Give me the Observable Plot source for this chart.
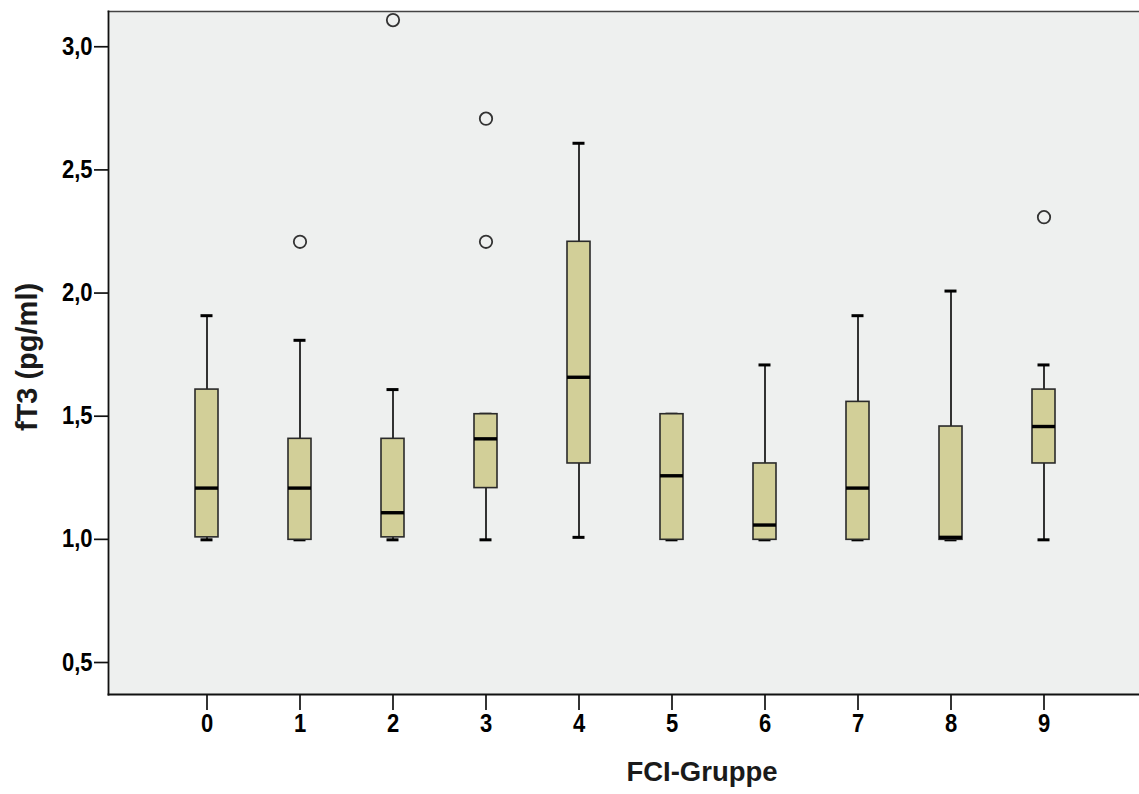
<!DOCTYPE html>
<html>
<head>
<meta charset="utf-8">
<script src="https://cdn.jsdelivr.net/npm/d3@7"></script>
<script src="https://cdn.jsdelivr.net/npm/@observablehq/plot@0.6"></script>
<style>
  html, body { margin: 0; padding: 0; background: #ffffff; overflow: hidden; }
  #chart svg { display: block; }
</style>
</head>
<body>
<div id="chart"></div>
<script>
// ---- data ----
const groups = ["0", "1", "2", "3", "4", "5", "6", "7", "8", "9"];
const whiskerLow  = [0.99, 0.99, 0.99, 0.99, 1.00, 0.99, 0.99, 0.99, 0.99, 0.99];
const quartile1   = [1.00, 0.99, 1.00, 1.20, 1.30, 0.99, 0.99, 0.99, 0.99, 1.30];
const medians     = [1.20, 1.20, 1.10, 1.40, 1.65, 1.25, 1.05, 1.20, 1.00, 1.45];
const quartile3   = [1.60, 1.40, 1.40, 1.50, 2.20, 1.50, 1.30, 1.55, 1.45, 1.60];
const whiskerHigh = [1.90, 1.80, 1.60, 1.50, 2.60, 1.50, 1.70, 1.90, 2.00, 1.70];
const outlierGroups = ["1", "2", "3", "3", "9"];
const outlierValues = [2.2, 3.1, 2.7, 2.2, 2.3];
const yTicks = [0.5, 1.0, 1.5, 2.0, 2.5, 3.0];
const xTitle = "FCI-Gruppe";
const yTitle = "fT3 (pg/ml)";

const boxes = groups.map((g, i) => ({
  group: g, lo: whiskerLow[i], q1: quartile1[i], med: medians[i], q3: quartile3[i], hi: whiskerHigh[i]
}));
const outliers = outlierGroups.map((g, i) => ({ group: g, value: outlierValues[i] }));

const tickFont = "'Liberation Sans', Arial, sans-serif";
const titleFont = "'Liberation Sans', Arial, sans-serif";

const chart = Plot.plot({
  width: 1139,
  height: 794,
  marginLeft: 108,
  marginRight: 0,
  marginTop: 11,
  marginBottom: 100,
  style: { background: "#ffffff", color: "#000", fontFamily: tickFont, fontSize: "25px", fontWeight: "bold" },
  x: { type: "band", domain: groups, paddingInner: 0.75, paddingOuter: 0.915, range: [109.5, 1140.5], label: null },
  y: { domain: [0.362, 3.135], label: null },
  marks: [
    Plot.frame({ fill: "#eef0ef", stroke: null }),
    Plot.ruleX(boxes, { x: "group", y1: "lo", y2: "q1", stroke: "#111", strokeWidth: 1.7 }),
    Plot.ruleX(boxes, { x: "group", y1: "q3", y2: "hi", stroke: "#111", strokeWidth: 1.7 }),
    Plot.tickY(boxes, { x: "group", y: "hi", insetLeft: 5.5, insetRight: 5.5, stroke: "#000", strokeWidth: 3 }),
    Plot.tickY(boxes, { x: "group", y: "lo", insetLeft: 5.5, insetRight: 5.5, stroke: "#000", strokeWidth: 3 }),
    Plot.barY(boxes, { x: "group", y1: "q1", y2: "q3", fill: "#d2cf98", stroke: "#2a2a2a", strokeWidth: 1.6 }),
    Plot.tickY(boxes, { x: "group", y: "med", stroke: "#000", strokeWidth: 3.4 }),
    Plot.dot(outliers, { x: "group", y: "value", r: 6.2, stroke: "#333", strokeWidth: 1.8, fill: "none" }),
    Plot.frame({ anchor: "top", stroke: "#444", strokeWidth: 1.6 }),
    Plot.frame({ anchor: "left", stroke: "#111", strokeWidth: 1.8 }),
    Plot.frame({ anchor: "bottom", stroke: "#111", strokeWidth: 1.8 }),
    Plot.axisY({
      ticks: yTicks,
      tickFormat: d => d.toFixed(1).replace(".", ","),
      tickSize: 14, tickPadding: 2, dy: 2,
      stroke: "#111", strokeWidth: 1.7, label: null
    }),
    Plot.axisX({ tickSize: 16, tickPadding: 4, stroke: "#111", strokeWidth: 1.7, label: null }),
    Plot.text([xTitle], {
      text: d => d, frameAnchor: "bottom", textAnchor: "middle", dx: 78, dy: 86,
      fontFamily: titleFont, fontSize: 27.5, fontWeight: "bold", fill: "#1a1a1a"
    }),
    Plot.text([yTitle], {
      text: d => d, frameAnchor: "left", textAnchor: "middle", rotate: -90, dx: -81, dy: 4,
      fontFamily: titleFont, fontSize: 29, fontWeight: "bold", fill: "#1a1a1a"
    })
  ]
});

// condense the tick labels horizontally (the reference uses a narrow bold face)
d3.select(chart).selectAll('g[aria-label="y-axis tick label"] text, g[aria-label="x-axis tick label"] text').each(function () {
  const sx = 0.88;
  const t = this.getAttribute("transform");
  if (t) {
    this.setAttribute("transform", t + ` scale(${sx},1)`);
  } else {
    const x = +this.getAttribute("x") || 0, y = +this.getAttribute("y") || 0;
    this.setAttribute("transform", `translate(${x},${y}) scale(${sx},1) translate(${-x},${-y})`);
  }
});

document.getElementById("chart").appendChild(chart);
</script>
</body>
</html>
